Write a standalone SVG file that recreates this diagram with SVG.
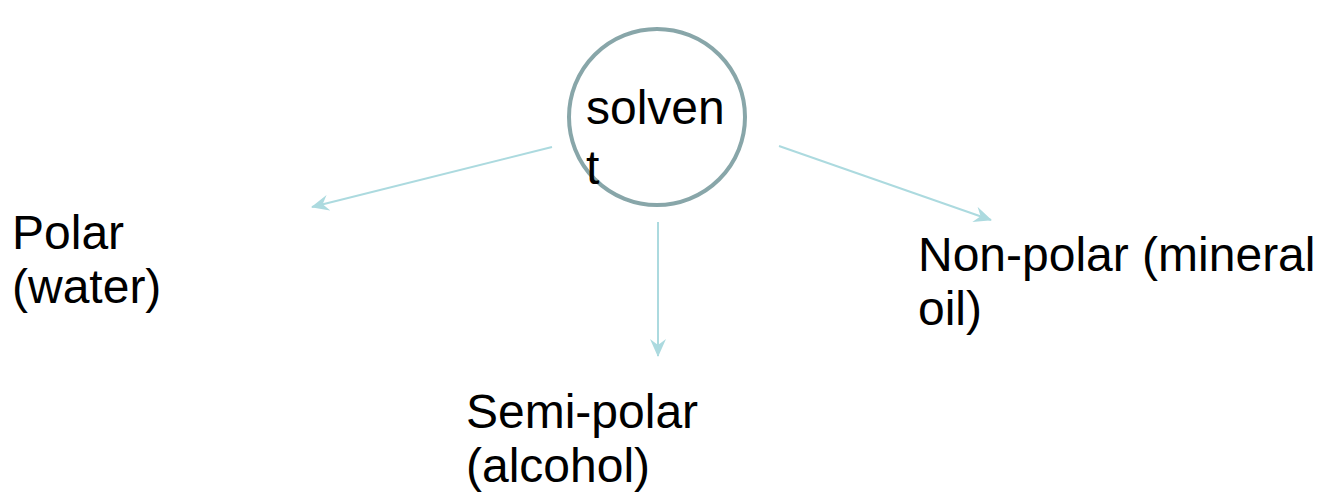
<svg xmlns="http://www.w3.org/2000/svg" width="1322" height="496" viewBox="0 0 1322 496">
  <defs>
    <marker id="head" viewBox="0 0 18 16" refX="17" refY="8" markerWidth="18" markerHeight="16" markerUnits="userSpaceOnUse" orient="auto">
      <path d="M0,0 L18,8 L0,16 L6,8 Z" fill="#acdadf"/>
    </marker>
  </defs>
  <style>
    .lbl { font-family: "Liberation Sans", Arial, sans-serif; font-size: 48px; fill: #000; }
    .edge { stroke: #acdadf; stroke-width: 2; fill: none; marker-end: url(#head); }
    .hub { fill: none; stroke: #88a6a9; stroke-width: 4; }
  </style>
  <rect width="1322" height="496" fill="#fff"/>

  <g id="connectors">
    <line class="edge" x1="552" y1="147" x2="312" y2="207"/>
    <line class="edge" x1="658" y1="222" x2="658" y2="356"/>
    <line class="edge" x1="779" y1="146" x2="991" y2="220"/>
  </g>

  <g id="solvent">
    <circle class="hub" cx="657" cy="117" r="88"/>
    <text class="lbl" x="586" y="124">solven</text>
    <text class="lbl" x="586" y="184">t</text>
  </g>

  <g id="polar">
    <text class="lbl" x="12" y="249">Polar</text>
    <text class="lbl" x="12" y="303">(water)</text>
  </g>

  <g id="semi-polar">
    <text class="lbl" x="466" y="428">Semi-polar</text>
    <text class="lbl" x="466" y="482">(alcohol)</text>
  </g>

  <g id="non-polar">
    <text class="lbl" x="918" y="271">Non-polar (mineral</text>
    <text class="lbl" x="918" y="325">oil)</text>
  </g>
</svg>
